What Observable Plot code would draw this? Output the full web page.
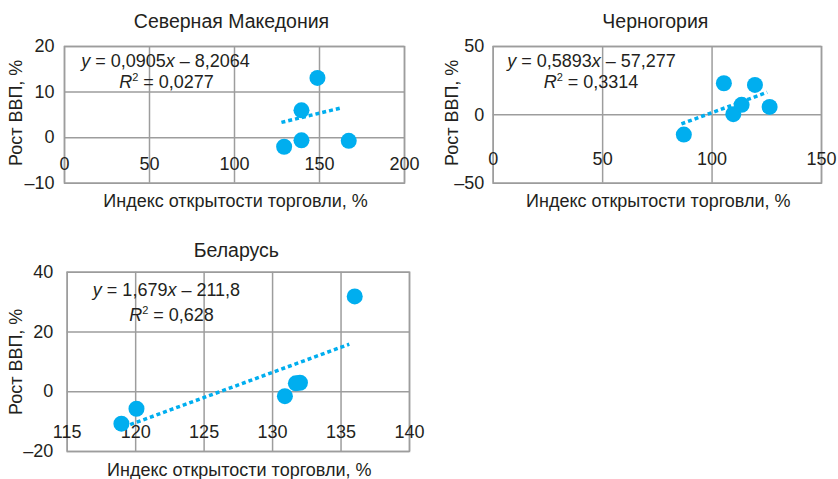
<!DOCTYPE html>
<html><head><meta charset="utf-8">
<script src="https://cdn.jsdelivr.net/npm/d3@7"></script>
<script src="https://cdn.jsdelivr.net/npm/@observablehq/plot@0.6"></script>
<style>
body{margin:0;background:#fff;}
#wrap{position:relative;width:838px;height:479px;overflow:hidden;background:#fff;}
.panel{position:absolute;}
</style></head><body><div id="wrap"></div>
<script>
const yLabel = "Рост ВВП, %";
const xLabel = "Индекс открытости торговли, %";

// Северная Македония
const mkTitle = "Северная Македония";
const mkX = [129.2, 139.4, 139.4, 148.8, 167.2];
const mkY = [-2.0, -0.6, 6.0, 13.1, -0.7];
const mkTrendX = [127.6, 163.3];
const mkTrendY = [3.34, 6.57];
const mkEq = ["y", " = 0,0905", "x", " – 8,2064"];
const mkR2 = "0,0277";
const mkXTicks = [0, 50, 100, 150, 200];
const mkYTicks = [-10, 0, 10, 20];

// Черногория
const meTitle = "Черногория";
const meX = [87.1, 105.4, 109.7, 113.5, 119.6, 126.3];
const meY = [-14.4, 23.1, 0.5, 7.3, 21.9, 5.8];
const meTrendX = [86.0, 125.2];
const meTrendY = [-6.6, 16.5];
const meEq = ["y", " = 0,5893", "x", " – 57,277"];
const meR2 = "0,3314";
const meXTicks = [0, 50, 100, 150];
const meYTicks = [-50, 0, 50];

// Беларусь
const byTitle = "Беларусь";
const byX = [118.96, 120.06, 130.9, 131.7, 132.0, 136.0];
const byY = [-10.7, -5.7, -1.5, 2.8, 3.0, 31.9];
const byTrendX = [119.6, 135.6];
const byTrendY = [-11.0, 15.9];
const byEq = ["y", " = 1,679", "x", " – 211,8"];
const byR2 = "0,628";
const byXTicks = [115, 120, 125, 130, 135, 140];
const byYTicks = [-20, 0, 20, 40];

const BLUE = "#00aeef";
const GRID = "#9d9d9d";
const INK = "#231f20";
const FONT = "'Liberation Sans', Arial, sans-serif";
const FS = 18;
const TFS = 19.5;

const panels = [
  {left:0, top:0, w:420, h:220, ml:64, mr:16, mt:46, mb:37.3,
   title:mkTitle, x:mkX, y:mkY, tx:mkTrendX, ty:mkTrendY, eq:mkEq, r2:mkR2,
   xt:mkXTicks, yt:mkYTicks, xLabY:-5.85, yPad:10,
   titleDx:-3, titleDy:-25, eqDx:101, eqDy:15, r2Dx:102, r2Dy:36, yLabDx:-48, yLabDy:-2, xLabDx:1, xLabDy:18.5},
  {left:420, top:0, w:418, h:220, ml:72.7, mr:17, mt:46, mb:37.3,
   title:meTitle, x:meX, y:meY, tx:meTrendX, ty:meTrendY, eq:meEq, r2:meR2,
   xt:meXTicks, yt:meYTicks, xLabY:-32.3, yPad:9,
   titleDx:-2, titleDy:-25, eqDx:98.3, eqDy:15, r2Dx:97.8, r2Dy:36, yLabDx:-40.7, yLabDy:-2, xLabDx:1, xLabDy:18.5},
  {left:0, top:230, w:440, h:249, ml:66.7, mr:31, mt:41.7, mb:28,
   title:byTitle, x:byX, y:byY, tx:byTrendX, ty:byTrendY, eq:byEq, r2:byR2,
   xt:byXTicks, yt:byYTicks, xLabY:-13.5, yPad:14,
   titleDx:-2, titleDy:-21.7, eqDx:99.3, eqDy:18, r2Dx:104.3, r2Dy:43.5, yLabDx:-50.7, yLabDy:0, xLabDx:1, xLabDy:18.5}
];

const wrap = document.getElementById("wrap");
for (const s of panels) {
  const pts = s.x.map((x, i) => ({x, y: s.y[i]}));
  const trend = s.tx.map((x, i) => ({x, y: s.ty[i]}));
  const eqStr = s.eq.join("");
  const r2Str = "R² = " + s.r2;
  const svg = Plot.plot({
    width: s.w, height: s.h,
    marginLeft: s.ml, marginRight: s.mr, marginTop: s.mt, marginBottom: s.mb,
    style: {fontFamily: FONT, fontSize: FS + "px", color: INK, background: "transparent", overflow: "visible"},
    x: {domain: [s.xt[0], s.xt[s.xt.length - 1]], axis: null},
    y: {domain: [s.yt[0], s.yt[s.yt.length - 1]]},
    marks: [
      Plot.gridX(s.xt, {stroke: GRID, strokeOpacity: 1, strokeWidth: 1.5}),
      Plot.gridY(s.yt, {stroke: GRID, strokeOpacity: 1, strokeWidth: 1.5}),
      Plot.frame({stroke: GRID, strokeWidth: 1.5}),
      Plot.axisY(s.yt, {tickSize: 0, tickPadding: s.yPad, fontSize: FS, label: null, fill: INK,
        tickFormat: d => (d < 0 ? "–" + Math.abs(d) : String(d))}),
      Plot.text(s.xt, {x: d => d, y: () => s.xLabY, text: d => String(d), fontSize: FS, fill: INK}),
      Plot.line(trend, {x: "x", y: "y", stroke: BLUE, strokeWidth: 3.5, strokeDasharray: "4 3", strokeLinecap: "butt"}),
      Plot.dot(pts, {x: "x", y: "y", r: 8, fill: BLUE}),
      Plot.text([s.title], {frameAnchor: "top", textAnchor: "middle", lineAnchor: "middle", dx: s.titleDx, dy: s.titleDy, fontSize: TFS, fill: INK}),
      Plot.text([eqStr], {frameAnchor: "top-left", textAnchor: "middle", lineAnchor: "middle", dx: s.eqDx, dy: s.eqDy, fontSize: FS, fill: INK}),
      Plot.text([r2Str], {frameAnchor: "top-left", textAnchor: "middle", lineAnchor: "middle", dx: s.r2Dx, dy: s.r2Dy, fontSize: FS, fill: INK}),
      Plot.text([yLabel], {frameAnchor: "left", textAnchor: "middle", rotate: -90, lineAnchor: "middle", dx: s.yLabDx, dy: s.yLabDy, fontSize: FS, fill: INK}),
      Plot.text([xLabel], {frameAnchor: "bottom", textAnchor: "middle", lineAnchor: "middle", dx: s.xLabDx, dy: s.xLabDy, fontSize: FS, fill: INK})
    ]
  });
  svg.querySelectorAll("text").forEach(t => {
    if (t.textContent === eqStr) {
      t.textContent = "";
      s.eq.forEach((part, i) => {
        const ts = document.createElementNS("http://www.w3.org/2000/svg", "tspan");
        ts.textContent = part;
        if (i % 2 === 0) ts.setAttribute("font-style", "italic");
        t.appendChild(ts);
      });
    } else if (t.textContent === r2Str) {
      t.textContent = "";
      const a = document.createElementNS("http://www.w3.org/2000/svg", "tspan");
      a.textContent = "R"; a.setAttribute("font-style", "italic");
      const b = document.createElementNS("http://www.w3.org/2000/svg", "tspan");
      b.textContent = "2"; b.setAttribute("font-size", "11px"); b.setAttribute("dy", "-7");
      const c = document.createElementNS("http://www.w3.org/2000/svg", "tspan");
      c.textContent = " = " + s.r2; c.setAttribute("dy", "7");
      t.appendChild(a); t.appendChild(b); t.appendChild(c);
    }
  });
  svg.querySelectorAll("path").forEach(p => {
    if (p.getAttribute("stroke") === BLUE || (p.parentNode && p.parentNode.getAttribute("stroke") === BLUE)) {
      p.setAttribute("stroke-dasharray", "4 3");
    }
  });
  const div = document.createElement("div");
  div.className = "panel";
  div.style.left = s.left + "px";
  div.style.top = s.top + "px";
  div.appendChild(svg);
  wrap.appendChild(div);
}
</script></body></html>
